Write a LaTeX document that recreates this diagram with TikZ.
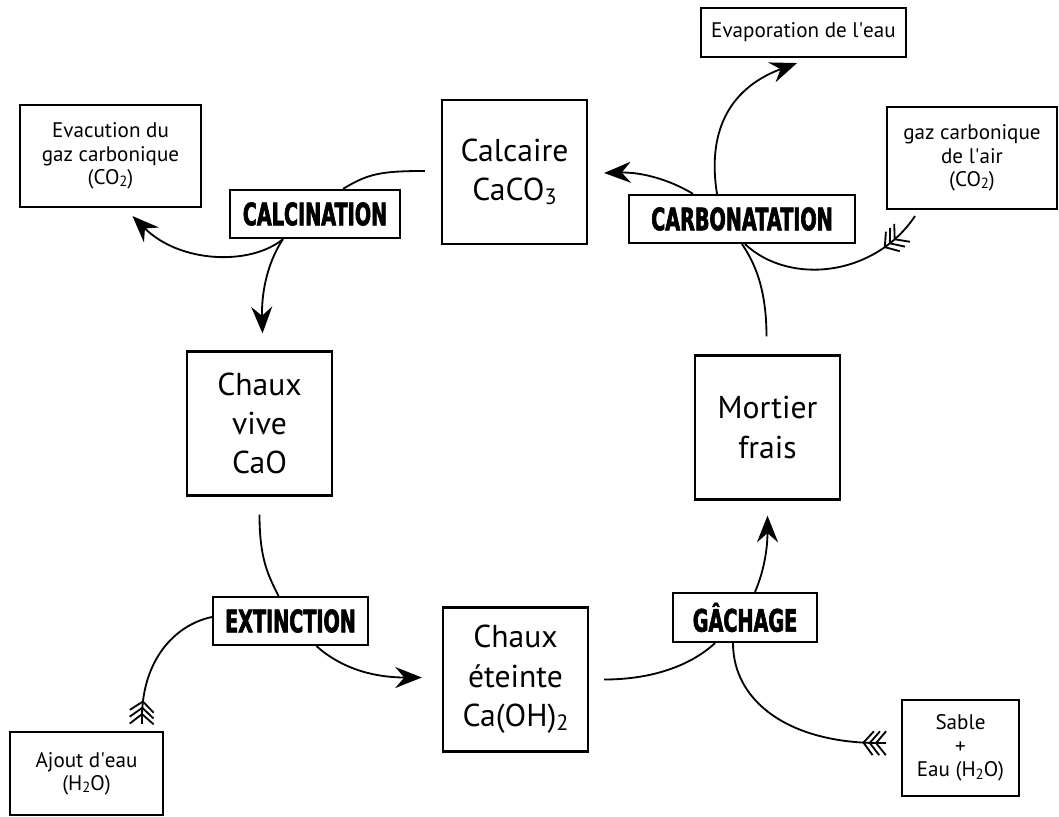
\documentclass[tikz,border=0pt]{standalone}
\usepackage{fontspec}
\usepackage{graphicx}
\usepackage{tikz}
\usetikzlibrary{arrows.meta,calc,decorations.markings}
\setmainfont{PT Sans}
\newfontfamily\stagefont[FakeStretch=0.62,FakeBold=2]{DejaVu Sans}
\newlength\unitpx
\setlength\unitpx{0.025cm}
\newcommand{\lowidx}[1]{\raisebox{-0.25ex}{\scalebox{0.7}{#1}}}

\tikzset{
    phasebox/.style={draw, line width=1.6pt, align=center, inner sep=0pt,
        minimum width=145\unitpx, minimum height=144\unitpx,
        font=\fontsize{22.5}{28}\selectfont},
    notebox/.style={draw, line width=1.5pt, align=center, inner sep=0pt,
        font=\fontsize{15}{16.5}\selectfont},
    stagebox/.style={draw, fill=white, line width=1.6pt, inner sep=0pt,
        minimum height=48\unitpx, font=\fontsize{22}{24}\stagefont\bfseries},
    flow/.style={line width=1.3pt},
    flowarrow/.style={flow, -{Stealth[length=19pt,width=15pt,inset=6.5pt]}},
    fletch/.style={postaction=decorate, decoration={markings,
        mark=at position #1+7pt with {\draw[line width=1.3pt] (-7pt,8.5pt) -- (0,0) -- (-7pt,-8.5pt);},
        mark=at position #1+11.5pt with {\draw[line width=1.3pt] (-7pt,8.5pt) -- (0,0) -- (-7pt,-8.5pt);},
        mark=at position #1+16pt with {\draw[line width=1.3pt] (-7pt,8.5pt) -- (0,0) -- (-7pt,-8.5pt);}}},
}

\begin{document}
\begin{tikzpicture}[x=0.025cm,y=-0.025cm]
    \useasboundingbox (0,0) rectangle (1059,816);

    % the four states of the lime
    \node[phasebox] (calcaire) at (514.5,172) {Calcaire\\CaCO\lowidx{3}};
    \node[phasebox] (vive) at (259.5,423.5) {Chaux\\vive\\CaO};
    \node[phasebox] (eteinte) at (515.5,679.5) {Chaux\\éteinte\\Ca(OH)\lowidx{2}};
    \node[phasebox] (mortier) at (767.5,427.5) {Mortier\\frais};

    % what goes in and out
    \node[notebox, minimum width=181\unitpx, minimum height=102\unitpx] (evacuation) at (110.5,156)
        {Evacution du\\gaz carbonique\\(CO\lowidx{2})};
    \node[notebox, minimum width=205\unitpx, minimum height=49\unitpx] (evaporation) at (803.5,32.5)
        {Evaporation de l\textquotesingle eau};
    \node[notebox, minimum width=170\unitpx, minimum height=102\unitpx] (airco2) at (972,158)
        {gaz carbonique\\de l\textquotesingle air\\(CO\lowidx{2})};
    \node[notebox, minimum width=117\unitpx, minimum height=96\unitpx] (sable) at (960.5,748)
        {Sable\\+\\Eau (H\lowidx{2}O)};
    \node[notebox, minimum width=153\unitpx, minimum height=83\unitpx] (ajout) at (86.5,773.5)
        {Ajout d\textquotesingle eau\\(H\lowidx{2}O)};

    % the four reactions
    \node[stagebox, minimum width=170\unitpx] (calcination) at (315,214) {CALCINATION};
    \node[stagebox, minimum width=226\unitpx] (carbonatation) at (742,219) {CARBONATATION};
    \node[stagebox, minimum width=155\unitpx] (extinction) at (290.5,621) {EXTINCTION};
    \node[stagebox, minimum width=144\unitpx, minimum height=49\unitpx] (gachage) at (745,617.5) {GÂCHAGE};

    % calcination
    \draw[flow] ($(calcaire.west)+(-16,-1)$) .. controls +(-45,0) and +(25,-15) .. ($(calcination.north)+(28,0)$);
    \draw[flowarrow] ($(calcination.south)+(-32,0)$) .. controls +(-33,27) and +(47,47) .. ($(evacuation.south)+(22,8)$);
    \draw[flowarrow] ($(calcination.south)+(-32,0)$) .. controls +(-18,27) and +(-1,-35) .. ($(vive.north)+(3,-17)$);

    % extinction
    \draw[flow] ($(vive.south)+(0,18)$) .. controls +(0,45) and +(-10,-20) .. ($(extinction.north)+(-12,0)$);
    \draw[flow, fletch=0pt] ($(ajout.north)+(55.5,-7)$) .. controls +(-2,-62) and +(-38,8) .. ($(extinction.west)+(0,-4)$);
    \draw[flowarrow] ($(extinction.south)+(26,0)$) .. controls +(28,25) and +(-43,0) .. ($(eteinte.west)+(-20,-2)$);

    % gachage
    \draw[flow] ($(eteinte.east)+(15,0)$) .. controls +(47,0) and +(-25,23) .. ($(gachage.south)+(-30,0)$);
    \draw[flow, fletch=0pt] ($(sable.west)+(-15,-5)$) .. controls +(-97,2) and +(0,58) .. ($(gachage.south)+(-12,0)$);
    \draw[flowarrow] ($(gachage.north)+(10,0)$) .. controls +(10,-23) and +(0,30) .. ($(mortier.south)+(0,15)$);

    % carbonatation
    \draw[flow] ($(mortier.north)+(-1,-18)$) .. controls +(0,-47) and +(13,19) .. (carbonatation.south);
    \draw[flow, fletch=15pt] ($(airco2.south)+(-57,6)$) .. controls +(-40,60) and +(45,42) .. ($(carbonatation.south)+(3,0)$);
    \draw[flowarrow] ($(carbonatation.north)+(-49,0)$) .. controls +(-23,-14) and +(38,-1) .. ($(calcaire.east)+(16,1)$);
    \draw[flowarrow] ($(carbonatation.north)+(-25,0)$) .. controls +(-11,-69) and +(-62,23) .. ($(evaporation.south)+(-6.5,5)$);
\end{tikzpicture}
\end{document}
